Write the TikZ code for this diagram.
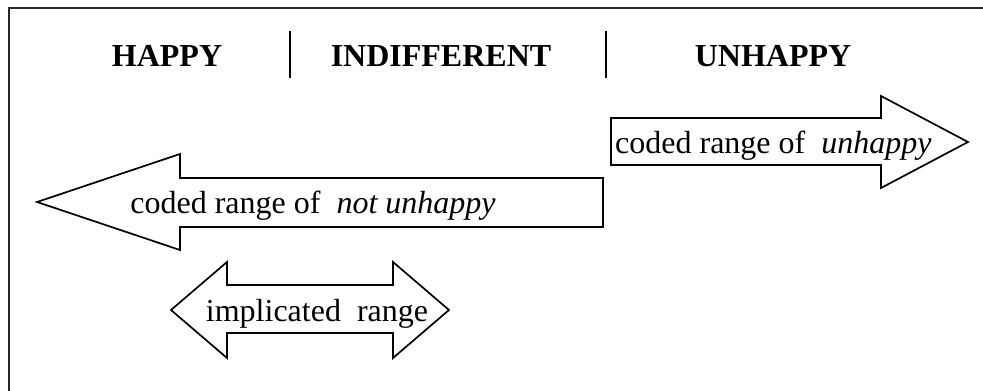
\documentclass[tikz,border=0pt]{standalone}
\usepackage{fontspec}
\setmainfont{Liberation Serif}
\begin{document}
\begin{tikzpicture}[x=1pt,y=-1pt,
  arrowshape/.style={draw=black,line width=1.7pt,fill=white,line join=miter},
  head/.style={font=\fontsize{32}{36}\selectfont\bfseries,inner sep=0pt,anchor=base},
  lbl/.style={font=\fontsize{32}{36}\selectfont,inner sep=0pt,anchor=base},
  sep/.style={draw=black,line width=1.5pt}]
\useasboundingbox (0,0) rectangle (983,391);
\clip (0,0) rectangle (983,391);
% frame (only top and left edges visible)
\draw[line width=1.8pt,draw=black!85] (9,395) -- (9,8) -- (990,8);
% header
\node[head] (happy) at (167,66) {HAPPY};
\node[head] (indiff) at (441,66) {INDIFFERENT};
\node[head] (unhappy) at (773,66) {UNHAPPY};
\coordinate (s1t) at (290,31); \coordinate (s1b) at (290,78);
\coordinate (s2t) at (606,31); \coordinate (s2b) at (606,78);
\draw[sep] (s1t) -- (s1b);
\draw[sep] (s2t) -- (s2b);
% left arrow (coded range of not unhappy)
\draw[arrowshape] (37,202) -- (180,154) -- (180,178) -- (603,178) -- (603,227) -- (180,227) -- (180,250) -- cycle;
\node[lbl] (notun) at (313,213) {coded range of\ \ \textit{not unhappy}};
% right arrow (coded range of unhappy)
\draw[arrowshape] (611,118) -- (881,118) -- (881,96) -- (968,142) -- (881,188) -- (881,165) -- (611,165) -- cycle;
\node[lbl,anchor=base west] (un) at (615,153) {coded range of\ \ \textit{unhappy}};
% double arrow (implicated range)
\draw[arrowshape] (171,310) -- (227,262) -- (227,285) -- (393,285) -- (393,262) -- (449,310) -- (393,358) -- (393,333) -- (227,333) -- (227,358) -- cycle;
\node[lbl] (impl) at (317,321) {implicated\ \ range};
\end{tikzpicture}
\end{document}
